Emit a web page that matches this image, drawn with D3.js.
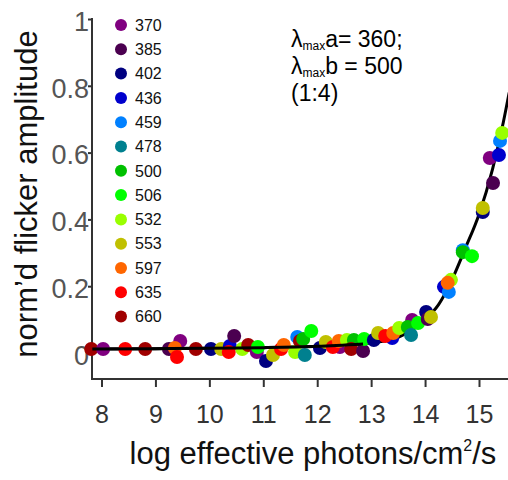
<!DOCTYPE html>
<html><head><meta charset="utf-8">
<script src="https://cdn.jsdelivr.net/npm/d3@7"></script>
<style>
html,body{margin:0;padding:0;background:#fff;}
svg{display:block;font-family:"Liberation Sans",Arial,sans-serif;}
</style></head>
<body>
<svg id="c" width="508" height="480"></svg>
<script>
// Legend / series
const wavelengths = [370, 385, 402, 436, 459, 478, 500, 506, 532, 553, 597, 635, 660];
const seriesColors = ["#800080", "#4b0050", "#000080", "#0000cd", "#0080ff", "#00808f", "#00c000", "#00ff00", "#99ff00", "#c0c000", "#ff6600", "#ff0000", "#a00000"];

// Data points: wavelength, log effective photons, normalised amplitude
const pointWl = [660,370,635,660,385,370,597,635,660,402,553,436,635,385,532,660,370,506,402,553,635,597,532,459,660,500,478,506,402,553,370,635,597,532,500,660,385,506,402,553,436,635,597,532,370,500,478,506,402,385,553,436,459,532,597,459,500,506,402,553,385,370,436,459,532];
const pointX = [7.81,8.03,8.44,8.81,9.25,9.46,9.36,9.40,9.75,10.03,10.22,10.38,10.36,10.46,10.61,10.72,10.88,10.90,11.05,11.18,11.33,11.38,11.59,11.63,11.68,11.74,11.77,11.89,12.05,12.16,12.42,12.29,12.40,12.55,12.68,12.63,12.85,12.87,13.05,13.13,13.39,13.26,13.41,13.52,13.76,13.68,13.74,13.87,14.02,14.05,14.11,14.35,14.44,14.48,14.42,14.70,14.70,14.87,15.07,15.07,15.26,15.20,15.37,15.39,15.43];
const pointY = [0.012,0.012,0.012,0.012,0.012,0.036,0.015,-0.012,0.012,0.012,0.012,0.021,0.003,0.051,0.012,0.024,0.003,0.018,-0.024,-0.006,0.012,0.024,0.003,0.048,0.036,0.042,-0.006,0.066,0.015,0.033,0.018,0.018,0.036,0.039,0.039,0.012,0.006,0.042,0.039,0.060,0.045,0.051,0.060,0.075,0.099,0.078,0.054,0.090,0.123,0.102,0.108,0.198,0.183,0.219,0.210,0.308,0.302,0.290,0.422,0.434,0.509,0.584,0.593,0.635,0.659];

// Fitted curve
const curveX = [7.83, 9.0, 10.0, 11.0, 12.0, 12.85, 13.0, 13.5, 14.0, 14.25, 14.5, 14.75, 15.0, 15.25, 15.45, 15.56];
const curveY = [0.012, 0.013, 0.014, 0.016, 0.020, 0.027, 0.030, 0.047, 0.100, 0.145, 0.220, 0.315, 0.415, 0.550, 0.690, 0.780];
const flatEnd = 12.85;

const xTicks = [8, 9, 10, 11, 12, 13, 14, 15];
const yTicks = [0, 0.2, 0.4, 0.6, 0.8, 1];
const yTickLabels = ["0", "0.2", "0.4", "0.6", "0.8", "1"];

const svg = d3.select("#c");
const x = d3.scaleLinear().domain([8, 15]).range([101.5, 479]);
const y = d3.scaleLinear().domain([0, 1]).range([353, 19]);
const color = d3.scaleOrdinal().domain(wavelengths).range(seriesColors);

const axisColor = "#333";
const yBottom = 379;

// axes
svg.append("line").attr("x1", 92).attr("x2", 92).attr("y1", y(1) - 1).attr("y2", yBottom)
  .attr("stroke", axisColor).attr("stroke-width", 2);
svg.append("line").attr("x1", 91).attr("x2", 508).attr("y1", yBottom).attr("y2", yBottom)
  .attr("stroke", axisColor).attr("stroke-width", 2);

const xa = svg.append("g").attr("transform", `translate(0,${yBottom})`)
  .call(d3.axisBottom(x).tickValues(xTicks).tickSize(8).tickSizeOuter(0).tickPadding(18).tickFormat(d3.format("d")));
xa.select(".domain").remove();
xa.selectAll(".tick line").attr("stroke", axisColor).attr("stroke-width", 2);
xa.selectAll(".tick text").attr("fill", "#333").style("font-size", "25px").attr("font-family", "Liberation Sans, Arial, sans-serif");

const ya = svg.append("g").attr("transform", "translate(92,0)")
  .call(d3.axisLeft(y).tickValues(yTicks).tickSize(4).tickSizeOuter(0).tickPadding(-1).tickFormat((d, i) => yTickLabels[i]));
ya.select(".domain").remove();
ya.selectAll(".tick line").attr("stroke", axisColor).attr("stroke-width", 2);
ya.selectAll(".tick text").attr("fill", "#555").style("font-size", "27px").attr("dy", "0.42em").attr("font-family", "Liberation Sans, Arial, sans-serif");

// titles
svg.append("text").attr("x", 313).attr("y", 464).attr("text-anchor", "middle")
  .style("font-size", "31px").attr("fill", "#111")
  .html('log effective photons/cm<tspan dy="-13" style="font-size:16px">2</tspan><tspan dy="13">/s</tspan>');
svg.append("text").attr("transform", "translate(37,194) rotate(-90)").attr("text-anchor", "middle")
  .style("font-size", "31px").attr("fill", "#111").text("norm\u2019d flicker amplitude");

// curve
const curvePts = curveX.map((v, i) => [v, curveY[i]]);
const line = d3.line().x(d => x(d[0])).y(d => y(d[1])).curve(d3.curveMonotoneX);
svg.append("path").attr("d", line(curvePts)).attr("fill", "none").attr("stroke", "#000").attr("stroke-width", 3);

// points
const pts = pointX.map((v, i) => ({ wl: pointWl[i], lx: v, a: pointY[i] }));
svg.append("g").selectAll("circle").data(pts).join("circle")
  .attr("cx", d => x(d.lx)).attr("cy", d => y(d.a)).attr("r", 7)
  .attr("fill", d => color(d.wl));

// flat part of fit drawn above the points
svg.append("path").attr("d", line(curvePts.filter(d => d[0] <= flatEnd)))
  .attr("fill", "none").attr("stroke", "#000").attr("stroke-width", 3);

// legend
const lg = svg.append("g");
wavelengths.forEach((w, i) => {
  const cy = 25 + i * 24.3;
  lg.append("circle").attr("cx", 121).attr("cy", cy).attr("r", 6).attr("fill", color(w));
  lg.append("text").attr("x", 135).attr("y", cy).attr("dy", "0.36em").style("font-size", "16px").attr("fill", "#111").text(w);
});

// annotation (one multi-line text block)
svg.append("text").attr("x", 291).attr("y", 47).style("font-size", "23px").attr("fill", "#000")
  .html('\u03bb<tspan dy="3" style="font-size:12px">max</tspan><tspan dy="-3">a= 360;</tspan>' +
        '<tspan x="291" dy="27">\u03bb</tspan><tspan dy="3" style="font-size:12px">max</tspan><tspan dy="-3">b = 500</tspan>' +
        '<tspan x="291" dy="27">(1:4)</tspan>');
</script>
</body></html>
